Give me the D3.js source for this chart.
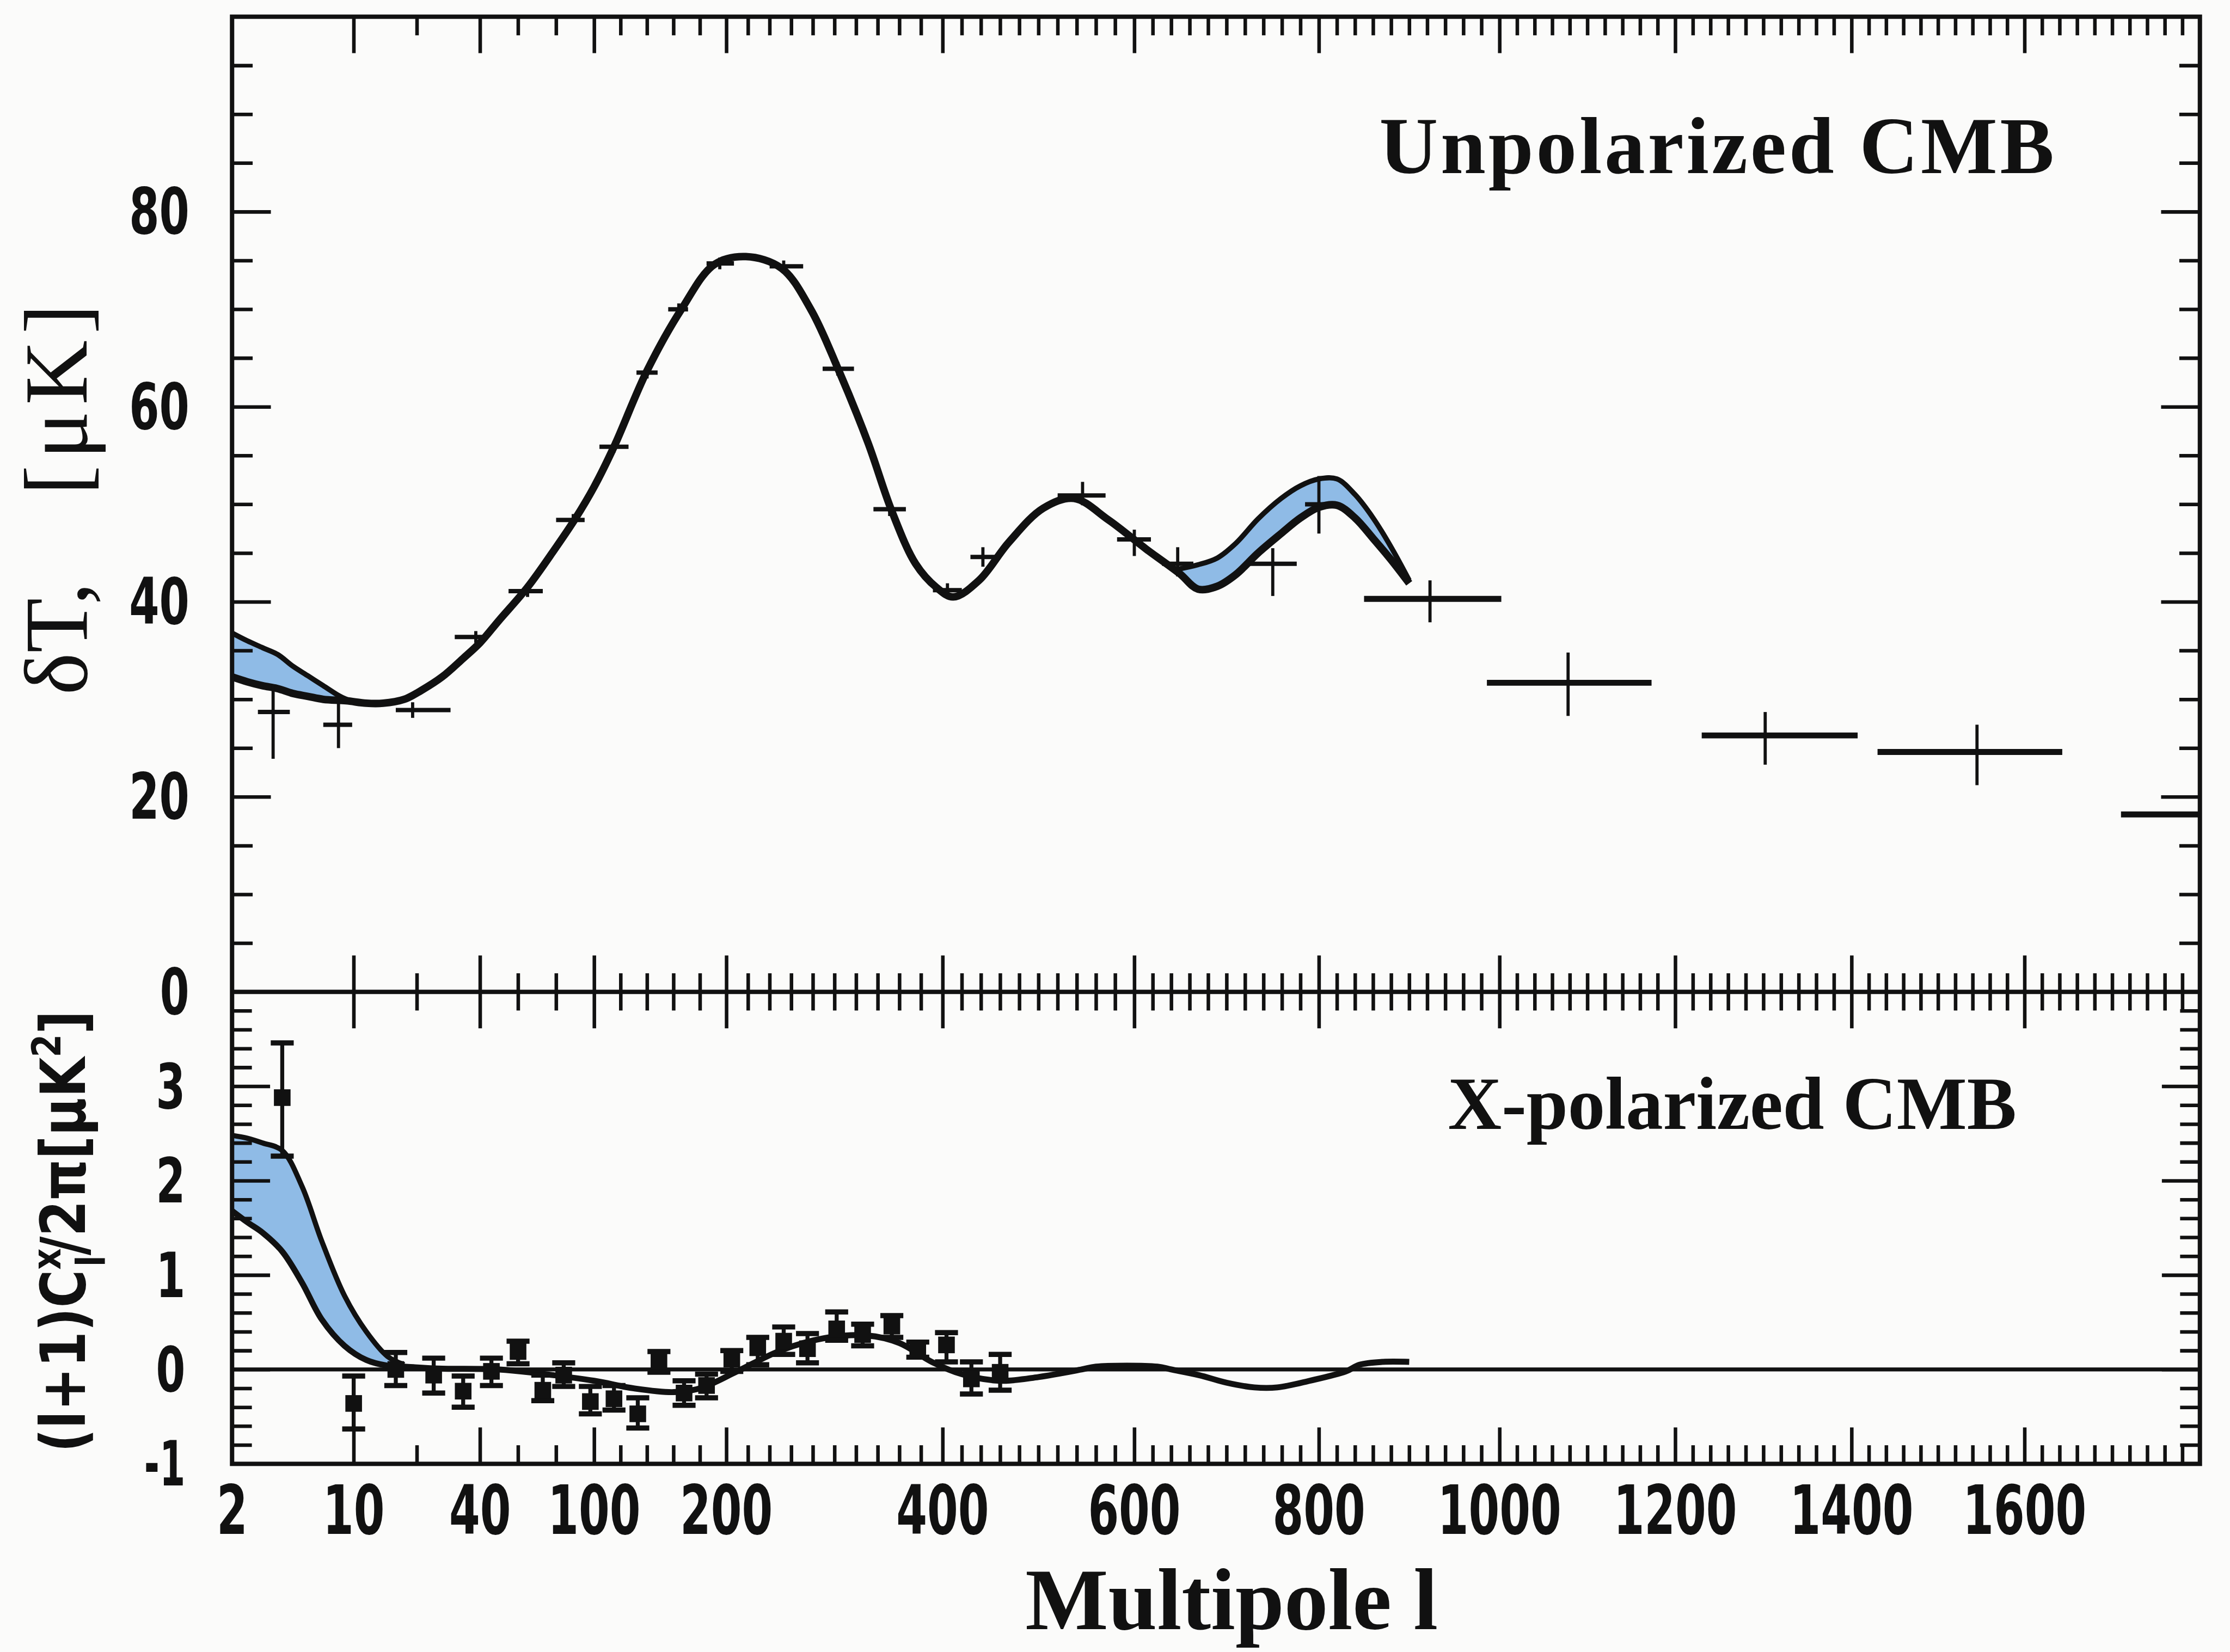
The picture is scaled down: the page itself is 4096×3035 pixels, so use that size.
<!DOCTYPE html>
<html>
<head>
<meta charset="utf-8">
<script src="https://cdn.jsdelivr.net/npm/d3@7/dist/d3.min.js"></script>
<style>
  html, body { margin: 0; padding: 0; background: #fbfbfa; }
  svg { display: block; }
</style>
</head>
<body>
<svg id="chart" width="4096" height="3035" viewBox="0 0 5631 4172"></svg>
<script>
// ================= DATA =================
// x-axis (multipole l) labelled ticks
const xTickValues = [2, 10, 40, 100, 200, 400, 600, 800, 1000, 1200, 1400, 1600];
const xTickLabels = ["2", "10", "40", "100", "200", "400", "600", "800", "1000", "1200", "1400", "1600"];
const xMajorTicks = [10, 40, 100, 200, 400, 600, 800, 1000, 1200, 1400, 1600];
const xMinorLow = [25, 60, 80, 120, 140, 160, 180];

// y-axis labels
const topYTickLabels = [0, 20, 40, 60, 80];
const botYTickLabels = [-1, 0, 1, 2, 3];

// Unpolarized CMB: model curve [l, dT]
const topCurve = [
  [2, 32.3], [3, 31.8], [4, 31.4], [5, 31.1], [6, 30.6], [7, 30.3], [8, 30.0], [9.5, 29.85],
  [13, 29.6], [17, 29.6], [22, 30.0], [26, 30.9], [31, 32.3], [36, 34.2], [40, 35.8], [50, 38.1],
  [65, 41.5], [80, 45.6], [90, 48.5], [100, 51.8], [115, 55.9], [140, 63.7], [166, 70.0],
  [191, 74.6], [218, 75.4], [251, 74.2], [278, 70.0], [304, 63.7], [331, 56.3], [353, 49.3],
  [375, 43.9], [394, 41.5], [411, 40.5], [438, 42.2], [469, 46.1], [505, 49.6], [537, 50.6],
  [573, 48.4], [613, 45.4], [649, 42.9], [669, 41.3], [690, 41.6], [710, 42.8], [734, 45.0],
  [759, 47.0], [780, 48.6], [800, 49.7], [820, 49.9], [840, 48.6], [860, 46.5], [880, 44.3],
  [900, 41.9]
];
// Unpolarized CMB: uncertainty bands [l, low, high]
const topBandLow = [
  [2, 32.3, 36.8], [3, 31.8, 36.0], [4, 31.4, 35.3], [5, 31.1, 34.6], [6, 30.6, 33.4],
  [7, 30.3, 32.4], [8, 30.0, 31.4], [9, 29.9, 30.4], [9.6, 29.85, 29.95]
];
const topBandHigh = [
  [645, 43.1, 43.3], [669, 41.3, 43.8], [690, 41.6, 44.5], [710, 42.8, 46.0], [734, 45.0, 48.5],
  [759, 47.0, 50.6], [780, 48.6, 51.9], [800, 49.7, 52.6], [820, 49.9, 52.6], [840, 48.6, 51.0],
  [860, 46.5, 48.6], [880, 44.3, 45.6], [900, 41.9, 42.2]
];
// Unpolarized CMB: measured points [l, dT, lMin, lMax, dTMin, dTMax]
const topPoints = [
  [4.7, 28.7, 3.7, 5.8, 23.9, 31.5],
  [9.0, 27.4, 8.0, 9.9, 25.0, 29.8],
  [24, 28.9, 20, 33, 28.1, 29.7],
  [39, 36.4, 34, 43, 35.8, 37.0],
  [65, 41.1, 55, 73, 40.5, 41.7],
  [89, 48.4, 80, 95, 47.8, 49.0],
  [115, 55.9, 104, 126, 55.3, 56.5],
  [140, 63.5, 132, 148, 62.9, 64.1],
  [164, 70.0, 156, 171, 69.4, 70.6],
  [195, 74.7, 185, 207, 74.1, 75.3],
  [253, 74.4, 240, 271, 73.8, 75.0],
  [303, 63.9, 289, 318, 63.2, 64.6],
  [351, 49.5, 336, 366, 48.8, 50.2],
  [405, 41.2, 391, 420, 40.5, 41.9],
  [442, 44.6, 429, 457, 43.6, 45.6],
  [546, 50.9, 520, 570, 49.9, 52.3],
  [600, 46.4, 582, 618, 44.7, 47.4],
  [647, 43.9, 630, 664, 42.6, 45.6],
  [750, 43.9, 725, 776, 40.6, 45.5],
  [800, 50.0, 785, 815, 47.0, 52.9],
  [923, 40.3, 850, 1002, 37.9, 42.2],
  [1078, 31.7, 986, 1173, 28.3, 34.8],
  [1302, 26.3, 1230, 1407, 23.3, 28.7],
  [1545, 24.6, 1430, 1643, 21.2, 27.4],
  [1820, 18.2, 1710, 1930, 16.0, 20.4]
];

// X-polarized CMB: model curve [l, value]
const botCurve = [
  [2, 1.68], [3, 1.56], [4, 1.45], [5.3, 1.25], [6.6, 0.92], [7.9, 0.53], [9.4, 0.25],
  [13, 0.10], [18, 0.04], [22, 0.03], [30, 0.01], [50, 0.0], [70, -0.04], [100, -0.12],
  [130, -0.20], [160, -0.24], [180, -0.20], [210, -0.02], [250, 0.20], [290, 0.33],
  [330, 0.36], [360, 0.28], [390, 0.08], [420, -0.05], [460, -0.12], [500, -0.08],
  [545, 0.0], [560, 0.03], [625, 0.03], [640, 0.0], [670, -0.06], [700, -0.14], [730, -0.19],
  [755, -0.19], [790, -0.12], [830, -0.02], [845, 0.05], [870, 0.08], [900, 0.08]
];
// X-polarized CMB: uncertainty band [l, low, high]
const botBand = [
  [2, 1.68, 2.48], [3, 1.56, 2.45], [4, 1.45, 2.40], [5.3, 1.25, 2.32], [6.6, 0.92, 1.94],
  [7.9, 0.53, 1.36], [9.4, 0.25, 0.78], [13, 0.10, 0.40], [18, 0.04, 0.14], [22, 0.03, 0.05]
];
// X-polarized CMB: measured points [l, value, low, high]
const botPoints = [
  [5.3, 2.88, 2.26, 3.46], [10, -0.36, -0.63, -0.07], [20, 0.0, -0.17, 0.18],
  [29, -0.06, -0.25, 0.12], [36, -0.23, -0.40, -0.07], [46, -0.02, -0.17, 0.12],
  [60, 0.19, 0.06, 0.30], [73, -0.22, -0.33, -0.06], [84, -0.06, -0.18, 0.07],
  [98, -0.34, -0.47, -0.18], [115, -0.31, -0.43, -0.17], [133, -0.47, -0.62, -0.30],
  [149, 0.09, -0.03, 0.19], [168, -0.25, -0.38, -0.12], [185, -0.17, -0.30, -0.05],
  [205, 0.11, -0.02, 0.20], [229, 0.23, 0.05, 0.34], [253, 0.30, 0.16, 0.45],
  [275, 0.22, 0.07, 0.38], [302, 0.43, 0.31, 0.61], [326, 0.37, 0.25, 0.48],
  [353, 0.46, 0.34, 0.57], [377, 0.21, 0.13, 0.29], [404, 0.26, 0.08, 0.39],
  [430, -0.10, -0.26, 0.08], [460, -0.03, -0.22, 0.16]
];

// ================= LAYOUT (reference pixel units, viewBox scales to 0.727) =================
const L = 586, R = 5555, T = 42, M = 2505, B = 3697;
const ink = "#111";
const bandFill = "#8fbbe6";
const narrow = "'Liberation Sans Narrow', 'Arial Narrow', 'DejaVu Sans Condensed', 'DejaVu Sans', sans-serif";
const serif = "'Liberation Serif', 'Times New Roman', 'DejaVu Serif', serif";

const svg = d3.select("#chart");
svg.append("rect").attr("width", 5631).attr("height", 4172).attr("fill", "#fbfbfa");

// piecewise x scale (hand-drawn axis: compressed low-l part, linear above 400)
const xDomain = [2, 10, 40, 100, 200, 400, 600, 800, 1000, 1200, 1400, 1600, 1800];
const xFrac = [0, 0.0618, 0.1260, 0.1840, 0.2512, 0.3611, 0.4585, 0.5523, 0.6441, 0.7334, 0.8230, 0.9109, 1];
const x = d3.scaleLinear().domain(xDomain).range(xFrac.map(f => L + f * (R - L)));
const yT = d3.scaleLinear().domain([0, 100]).range([M, T]);
const yB = d3.scaleLinear().domain([-1, 4]).range([B, M]);

// clip paths
const defs = svg.append("defs");
defs.append("clipPath").attr("id", "clipTop").append("rect")
  .attr("x", L).attr("y", T).attr("width", R - L).attr("height", M - T);
defs.append("clipPath").attr("id", "clipBot").append("rect")
  .attr("x", L).attr("y", M).attr("width", R - L).attr("height", B - M);

// ---------- TOP PANEL ----------
const gTop = svg.append("g").attr("clip-path", "url(#clipTop)");
const areaT = d3.area().x(d => x(d[0])).y0(d => yT(d[1])).y1(d => yT(d[2])).curve(d3.curveCatmullRom);
const edgeHiT = d3.line().x(d => x(d[0])).y(d => yT(d[2])).curve(d3.curveCatmullRom);
const lineT = d3.line().x(d => x(d[0])).y(d => yT(d[1])).curve(d3.curveCatmullRom);

[topBandLow, topBandHigh].forEach(b => {
  gTop.append("path").datum(b).attr("d", areaT).attr("fill", bandFill).attr("stroke", "none");
  gTop.append("path").datum(b).attr("d", edgeHiT).attr("fill", "none")
    .attr("stroke", ink).attr("stroke-width", 13);
});
gTop.append("path").datum(topCurve).attr("d", lineT).attr("fill", "none")
  .attr("stroke", ink).attr("stroke-width", 19).attr("stroke-linejoin", "round");

const cross = gTop.selectAll("g.cross").data(topPoints).join("g").attr("class", "cross");
cross.append("line")
  .attr("x1", d => x(d[2])).attr("x2", d => x(d[3]))
  .attr("y1", d => yT(d[1])).attr("y2", d => yT(d[1]))
  .attr("stroke", ink).attr("stroke-width", d => d[0] > 900 ? 15 : 11);
cross.append("line")
  .attr("x1", d => x(d[0])).attr("x2", d => x(d[0]))
  .attr("y1", d => yT(d[4])).attr("y2", d => yT(d[5]))
  .attr("stroke", ink).attr("stroke-width", 8);

// ---------- BOTTOM PANEL ----------
const gBot = svg.append("g").attr("clip-path", "url(#clipBot)");
const areaB = d3.area().x(d => x(d[0])).y0(d => yB(d[1])).y1(d => yB(d[2])).curve(d3.curveCatmullRom);
const edgeHiB = d3.line().x(d => x(d[0])).y(d => yB(d[2])).curve(d3.curveCatmullRom);
const lineB = d3.line().x(d => x(d[0])).y(d => yB(d[1])).curve(d3.curveCatmullRom);

gBot.append("path").datum(botBand).attr("d", areaB).attr("fill", bandFill);
gBot.append("path").datum(botBand).attr("d", edgeHiB).attr("fill", "none")
  .attr("stroke", ink).attr("stroke-width", 13);
// zero line
gBot.append("line").attr("x1", L).attr("x2", R).attr("y1", yB(0)).attr("y2", yB(0))
  .attr("stroke", ink).attr("stroke-width", 10);
gBot.append("path").datum(botCurve).attr("d", lineB).attr("fill", "none")
  .attr("stroke", ink).attr("stroke-width", 15).attr("stroke-linejoin", "round");

const pts = gBot.selectAll("g.pt").data(botPoints).join("g").attr("class", "pt");
pts.append("line")
  .attr("x1", d => x(d[0])).attr("x2", d => x(d[0]))
  .attr("y1", d => yB(d[2])).attr("y2", d => yB(d[3]))
  .attr("stroke", ink).attr("stroke-width", 10);
[2, 3].forEach(k => {
  pts.append("line")
    .attr("x1", d => x(d[0]) - 29).attr("x2", d => x(d[0]) + 29)
    .attr("y1", d => yB(d[k])).attr("y2", d => yB(d[k]))
    .attr("stroke", ink).attr("stroke-width", 13);
});
pts.append("rect")
  .attr("x", d => x(d[0]) - 21).attr("y", d => yB(d[1]) - 21)
  .attr("width", 42).attr("height", 42).attr("fill", ink);

// ---------- AXES / FRAMES ----------
function tickGroup(axis, tx, ty) {
  const g = svg.append("g").attr("transform", `translate(${tx},${ty})`).call(axis);
  g.select(".domain").remove();
  g.selectAll("text").remove();
  g.selectAll("line").attr("stroke", ink).attr("stroke-width", 9);
  return g;
}
const majLen = 92, minLen = 47;
const xMinor = xMinorLow.concat(d3.range(220, 1800, 20).filter(v => !xMajorTicks.includes(v)));

// x ticks: top frame (down), middle line (both), bottom frame (up)
[[d3.axisBottom, T], [d3.axisBottom, M], [d3.axisTop, M], [d3.axisTop, B]].forEach(([ax, yy]) => {
  tickGroup(ax(x).tickValues(xMajorTicks).tickSize(majLen).tickFormat(""), 0, yy);
  tickGroup(ax(x).tickValues(xMinor).tickSize(minLen).tickFormat(""), 0, yy);
});

// y ticks top panel
const topMaj = [20, 40, 60, 80];
const topMin = d3.range(5, 100, 5).filter(v => !topMaj.includes(v));
tickGroup(d3.axisRight(yT).tickValues(topMaj).tickSize(98).tickFormat(""), L, 0);
tickGroup(d3.axisRight(yT).tickValues(topMin).tickSize(52).tickFormat(""), L, 0);
tickGroup(d3.axisLeft(yT).tickValues(topMaj).tickSize(98).tickFormat(""), R, 0);
tickGroup(d3.axisLeft(yT).tickValues(topMin).tickSize(52).tickFormat(""), R, 0);

// y ticks bottom panel
const botMaj = [0, 1, 2, 3];
const botMin = d3.range(-4, 20).map(i => i / 5).filter(v => !Number.isInteger(v));
tickGroup(d3.axisRight(yB).tickValues(botMaj).tickSize(96).tickFormat(""), L, 0);
tickGroup(d3.axisRight(yB).tickValues(botMin).tickSize(50).tickFormat(""), L, 0);
tickGroup(d3.axisLeft(yB).tickValues(botMaj).tickSize(96).tickFormat(""), R, 0);
tickGroup(d3.axisLeft(yB).tickValues(botMin).tickSize(50).tickFormat(""), R, 0);

// frames
svg.append("rect").attr("x", L).attr("y", T).attr("width", R - L).attr("height", B - T)
  .attr("fill", "none").attr("stroke", ink).attr("stroke-width", 11);
svg.append("line").attr("x1", L).attr("x2", R).attr("y1", M).attr("y2", M)
  .attr("stroke", ink).attr("stroke-width", 11);

// tick labels (condensed bold digits)
const digitW = s => s.replace("-", "").length * 78 + (s.includes("-") ? 30 : 0);
svg.append("g").selectAll("text").data(xTickValues).join("text")
  .attr("x", d => x(d)).attr("y", 3815)
  .attr("text-anchor", "middle").attr("dominant-baseline", "central")
  .attr("font-family", narrow).attr("font-weight", "bold").attr("font-size", 172)
  .attr("textLength", (d, i) => digitW(xTickLabels[i])).attr("lengthAdjust", "spacingAndGlyphs")
  .attr("fill", ink).text((d, i) => xTickLabels[i]);

svg.append("g").selectAll("text").data(topYTickLabels).join("text")
  .attr("x", 478).attr("y", d => yT(d))
  .attr("text-anchor", "end").attr("dominant-baseline", "central")
  .attr("font-family", narrow).attr("font-weight", "bold").attr("font-size", 162)
  .attr("textLength", d => digitW(String(d)) - 4).attr("lengthAdjust", "spacingAndGlyphs")
  .attr("fill", ink).text(d => d);

svg.append("g").selectAll("text").data(botYTickLabels).join("text")
  .attr("x", 468).attr("y", d => yB(d))
  .attr("text-anchor", "end").attr("dominant-baseline", "central")
  .attr("font-family", narrow).attr("font-weight", "bold").attr("font-size", 158)
  .attr("textLength", d => digitW(String(d)) - 4).attr("lengthAdjust", "spacingAndGlyphs")
  .attr("fill", ink).text(d => d);

// axis titles
svg.append("text").attr("x", 3110).attr("y", 4115).attr("text-anchor", "middle")
  .attr("font-family", serif).attr("font-weight", "bold").attr("font-size", 222)
  .attr("fill", ink).text("Multipole l");

svg.append("text").attr("transform", "translate(219,1755) rotate(-90)")
  .attr("font-family", serif).attr("font-size", 226).attr("fill", ink).text("δT,");
svg.append("text").attr("transform", "translate(219,1250) rotate(-90)")
  .attr("font-family", serif).attr("font-size", 226).attr("fill", ink)
  .attr("textLength", 482).attr("lengthAdjust", "spacing").text("[μK]");

const ybG = svg.append("g").attr("transform", "translate(215,3668) rotate(-90)");
const yb = ybG.append("text")
  .attr("font-family", narrow).attr("font-weight", "bold").attr("font-size", 156).attr("fill", ink);
yb.append("tspan").text("(l+1)C");
yb.append("tspan").attr("font-size", 100).attr("dy", -62).text("x");
yb.append("tspan").attr("font-size", 100).attr("dx", -50).attr("dy", 112).text("l");
yb.append("tspan").attr("dy", -50).text("/2π[μK");
yb.append("tspan").attr("font-size", 100).attr("dy", -62).text("2");
yb.append("tspan").attr("dy", 62).text("]");
const ybW = yb.node().getBBox().width;
yb.attr("transform", `scale(${1116 / ybW},1)`);

// panel titles
svg.append("text").attr("x", 3483).attr("y", 437)
  .attr("font-family", serif).attr("font-weight", "bold").attr("font-size", 205).attr("fill", ink)
  .attr("textLength", 1704).attr("lengthAdjust", "spacing").text("Unpolarized CMB");
svg.append("text").attr("x", 3656).attr("y", 2851)
  .attr("font-family", serif).attr("font-weight", "bold").attr("font-size", 188).attr("fill", ink)
  .attr("textLength", 1436).attr("lengthAdjust", "spacing").text("X-polarized CMB");
</script>
</body>
</html>
